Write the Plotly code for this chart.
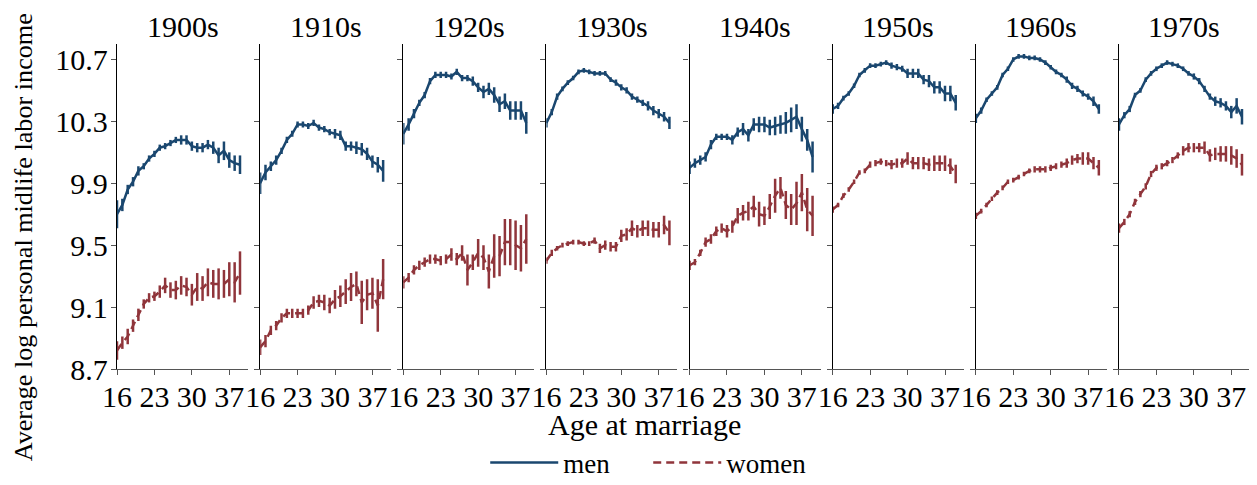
import plotly.graph_objects as go
from plotly.subplots import make_subplots

# Age at marriage (x) and decade panels
ages = list(range(16, 40))
decades = ["1900s", "1910s", "1920s", "1930s", "1940s", "1950s", "1960s", "1970s"]

# Average log personal midlife labor income, men
men_1900 = [9.70, 9.76, 9.86, 9.91, 9.98, 10.01, 10.06, 10.09, 10.13, 10.14, 10.16, 10.18,
            10.18, 10.18, 10.14, 10.13, 10.13, 10.15, 10.13, 10.08, 10.11, 10.05, 10.03, 10.02]
men_1910 = [9.90, 9.97, 10.01, 10.05, 10.11, 10.18, 10.22, 10.28, 10.28, 10.27, 10.29, 10.26,
            10.25, 10.23, 10.22, 10.21, 10.14, 10.14, 10.13, 10.12, 10.09, 10.04, 10.02, 9.98]
men_1920 = [10.22, 10.28, 10.35, 10.42, 10.47, 10.56, 10.60, 10.60, 10.60, 10.59, 10.62, 10.58,
            10.58, 10.56, 10.52, 10.49, 10.51, 10.47, 10.41, 10.43, 10.37, 10.37, 10.37, 10.29]
men_1930 = [10.29, 10.36, 10.46, 10.51, 10.55, 10.58, 10.62, 10.63, 10.62, 10.61, 10.61, 10.61,
            10.57, 10.55, 10.52, 10.50, 10.46, 10.44, 10.42, 10.40, 10.37, 10.35, 10.33, 10.29]
men_1940 = [10.00, 10.03, 10.05, 10.07, 10.15, 10.20, 10.20, 10.20, 10.18, 10.23, 10.25, 10.21,
            10.28, 10.28, 10.28, 10.26, 10.27, 10.28, 10.29, 10.31, 10.33, 10.25, 10.18, 10.07]
men_1950 = [10.38, 10.40, 10.45, 10.48, 10.53, 10.60, 10.63, 10.66, 10.66, 10.67, 10.68, 10.66,
            10.65, 10.64, 10.61, 10.61, 10.61, 10.57, 10.56, 10.52, 10.52, 10.48, 10.48, 10.42]
men_1960 = [10.32, 10.37, 10.44, 10.48, 10.52, 10.60, 10.64, 10.70, 10.72, 10.72, 10.71, 10.71,
            10.70, 10.68, 10.65, 10.62, 10.60, 10.57, 10.53, 10.51, 10.48, 10.46, 10.43, 10.38]
men_1970 = [10.28, 10.34, 10.38, 10.47, 10.50, 10.57, 10.61, 10.64, 10.66, 10.68, 10.67, 10.66,
            10.64, 10.61, 10.59, 10.56, 10.51, 10.46, 10.43, 10.42, 10.40, 10.36, 10.40, 10.33]

# Average log personal midlife labor income, women
women_1900 = [8.82, 8.87, 8.91, 8.98, 9.05, 9.12, 9.16, 9.17, 9.20, 9.24, 9.21, 9.21,
              9.24, 9.23, 9.18, 9.23, 9.22, 9.26, 9.25, 9.25, 9.25, 9.28, 9.26, 9.32]
women_1910 = [8.84, 8.88, 8.95, 8.98, 9.03, 9.06, 9.06, 9.06, 9.06, 9.08, 9.13, 9.14,
              9.13, 9.11, 9.15, 9.17, 9.20, 9.23, 9.25, 9.13, 9.18, 9.19, 9.11, 9.28]
women_1920 = [9.26, 9.29, 9.34, 9.37, 9.39, 9.41, 9.41, 9.40, 9.41, 9.44, 9.41, 9.45,
              9.34, 9.39, 9.45, 9.42, 9.33, 9.43, 9.43, 9.52, 9.52, 9.50, 9.48, 9.54]
women_1930 = [9.40, 9.45, 9.48, 9.50, 9.51, 9.52, 9.52, 9.51, 9.51, 9.53, 9.48, 9.50,
              9.49, 9.49, 9.56, 9.57, 9.61, 9.59, 9.61, 9.61, 9.60, 9.60, 9.63, 9.58]
women_1940 = [9.37, 9.39, 9.45, 9.52, 9.54, 9.59, 9.61, 9.59, 9.62, 9.69, 9.71, 9.72,
              9.75, 9.70, 9.69, 9.75, 9.82, 9.87, 9.76, 9.73, 9.77, 9.84, 9.73, 9.69]
women_1950 = [9.73, 9.76, 9.82, 9.86, 9.91, 9.97, 9.98, 10.02, 10.03, 10.04, 10.03, 10.02,
              10.03, 10.03, 10.06, 10.03, 10.03, 10.03, 10.02, 10.03, 10.03, 10.03, 10.01, 9.96]
women_1960 = [9.69, 9.72, 9.76, 9.80, 9.84, 9.87, 9.91, 9.92, 9.94, 9.96, 9.98, 9.99,
              9.99, 9.99, 10.00, 10.01, 10.02, 10.03, 10.05, 10.06, 10.06, 10.06, 10.03, 10.00]
women_1970 = [9.61, 9.65, 9.70, 9.78, 9.83, 9.88, 9.96, 10.00, 10.01, 10.03, 10.05, 10.08,
              10.11, 10.13, 10.13, 10.13, 10.13, 10.08, 10.09, 10.09, 10.09, 10.08, 10.06, 10.02]

# Half-width of confidence intervals, men
men_ci_1900 = [0.09, 0.04, 0.03, 0.03, 0.03, 0.02, 0.02, 0.02, 0.02, 0.02, 0.02, 0.02,
               0.03, 0.03, 0.03, 0.03, 0.03, 0.03, 0.04, 0.05, 0.06, 0.05, 0.05, 0.06]
men_ci_1910 = [0.07, 0.05, 0.03, 0.03, 0.02, 0.02, 0.02, 0.02, 0.02, 0.02, 0.02, 0.02,
               0.02, 0.02, 0.03, 0.03, 0.03, 0.03, 0.04, 0.04, 0.04, 0.04, 0.05, 0.07]
men_ci_1920 = [0.07, 0.04, 0.03, 0.02, 0.02, 0.02, 0.02, 0.02, 0.02, 0.02, 0.02, 0.02,
               0.02, 0.03, 0.03, 0.04, 0.04, 0.05, 0.05, 0.05, 0.06, 0.06, 0.06, 0.07]
men_ci_1930 = [0.03, 0.02, 0.02, 0.015, 0.015, 0.015, 0.015, 0.015, 0.015, 0.015, 0.015, 0.015,
               0.015, 0.02, 0.02, 0.02, 0.02, 0.02, 0.02, 0.03, 0.03, 0.03, 0.03, 0.04]
men_ci_1940 = [0.04, 0.03, 0.03, 0.03, 0.03, 0.02, 0.02, 0.02, 0.03, 0.03, 0.04, 0.04,
               0.04, 0.05, 0.05, 0.05, 0.06, 0.06, 0.07, 0.08, 0.08, 0.08, 0.07, 0.10]
men_ci_1950 = [0.03, 0.02, 0.015, 0.015, 0.015, 0.015, 0.015, 0.015, 0.015, 0.015, 0.015, 0.02,
               0.02, 0.02, 0.03, 0.03, 0.03, 0.03, 0.04, 0.04, 0.04, 0.05, 0.05, 0.05]
men_ci_1960 = [0.03, 0.02, 0.015, 0.015, 0.015, 0.015, 0.015, 0.015, 0.015, 0.015, 0.015, 0.015,
               0.015, 0.015, 0.015, 0.015, 0.015, 0.02, 0.02, 0.02, 0.02, 0.02, 0.03, 0.03]
men_ci_1970 = [0.04, 0.02, 0.02, 0.015, 0.015, 0.015, 0.015, 0.015, 0.015, 0.015, 0.015, 0.015,
               0.015, 0.015, 0.02, 0.02, 0.02, 0.02, 0.03, 0.03, 0.03, 0.04, 0.05, 0.05]

# Half-width of confidence intervals, women
women_ci_1900 = [0.06, 0.04, 0.05, 0.04, 0.04, 0.03, 0.03, 0.03, 0.04, 0.05, 0.05, 0.06,
                 0.06, 0.06, 0.07, 0.09, 0.08, 0.09, 0.09, 0.10, 0.09, 0.11, 0.13, 0.14]
women_ci_1910 = [0.05, 0.04, 0.03, 0.03, 0.03, 0.03, 0.03, 0.03, 0.03, 0.03, 0.04, 0.04,
                 0.05, 0.05, 0.06, 0.07, 0.08, 0.09, 0.08, 0.14, 0.10, 0.10, 0.17, 0.13]
women_ci_1920 = [0.04, 0.03, 0.03, 0.03, 0.03, 0.03, 0.03, 0.03, 0.03, 0.04, 0.04, 0.05,
                 0.10, 0.05, 0.09, 0.08, 0.11, 0.14, 0.13, 0.15, 0.15, 0.16, 0.15, 0.16]
women_ci_1930 = [0.02, 0.02, 0.015, 0.015, 0.015, 0.015, 0.015, 0.015, 0.015, 0.02, 0.03, 0.03,
                 0.03, 0.03, 0.04, 0.04, 0.05, 0.04, 0.05, 0.05, 0.05, 0.05, 0.06, 0.08]
women_ci_1940 = [0.03, 0.02, 0.02, 0.03, 0.03, 0.03, 0.03, 0.04, 0.04, 0.05, 0.05, 0.06,
                 0.07, 0.08, 0.06, 0.08, 0.11, 0.07, 0.09, 0.10, 0.14, 0.12, 0.14, 0.13]
women_ci_1950 = [0.02, 0.015, 0.015, 0.015, 0.015, 0.015, 0.015, 0.02, 0.02, 0.02, 0.02, 0.03,
                 0.03, 0.03, 0.04, 0.04, 0.04, 0.04, 0.04, 0.05, 0.05, 0.05, 0.05, 0.06]
women_ci_1960 = [0.02, 0.015, 0.015, 0.015, 0.015, 0.015, 0.015, 0.015, 0.015, 0.015, 0.015, 0.02,
                 0.02, 0.02, 0.02, 0.02, 0.02, 0.03, 0.03, 0.03, 0.04, 0.04, 0.04, 0.05]
women_ci_1970 = [0.03, 0.02, 0.02, 0.02, 0.02, 0.02, 0.02, 0.02, 0.02, 0.02, 0.02, 0.02,
                 0.03, 0.03, 0.03, 0.03, 0.04, 0.04, 0.04, 0.05, 0.05, 0.06, 0.06, 0.07]

men = [men_1900, men_1910, men_1920, men_1930, men_1940, men_1950, men_1960, men_1970]
women = [women_1900, women_1910, women_1920, women_1930, women_1940, women_1950, women_1960, women_1970]
men_ci = [men_ci_1900, men_ci_1910, men_ci_1920, men_ci_1930, men_ci_1940, men_ci_1950, men_ci_1960, men_ci_1970]
women_ci = [women_ci_1900, women_ci_1910, women_ci_1920, women_ci_1930, women_ci_1940, women_ci_1950,
            women_ci_1960, women_ci_1970]

x_ticks = [16, 23, 30, 37]
y_ticks = [8.7, 9.1, 9.5, 9.9, 10.3, 10.7]

MEN_COLOR = '#1a476f'
WOMEN_COLOR = '#90353b'
FONT = 'Liberation Serif, Times New Roman, serif'

fig = make_subplots(rows=1, cols=len(decades), shared_yaxes=True,
                    horizontal_spacing=0.0107, subplot_titles=decades)

for i in range(len(decades)):
    col = i + 1
    fig.add_trace(go.Scatter(
        x=ages, y=women[i], mode='lines', name='women',
        line=dict(color=WOMEN_COLOR, width=2.5, dash='8px,5px'),
        error_y=dict(type='data', array=women_ci[i], visible=True,
                     color=WOMEN_COLOR, thickness=2.5, width=0),
        showlegend=(i == 0), legendrank=2,
    ), row=1, col=col)
    fig.add_trace(go.Scatter(
        x=ages, y=men[i], mode='lines', name='men',
        line=dict(color=MEN_COLOR, width=2.5),
        error_y=dict(type='data', array=men_ci[i], visible=True,
                     color=MEN_COLOR, thickness=2.5, width=0),
        showlegend=(i == 0), legendrank=1,
    ), row=1, col=col)

fig.update_xaxes(range=[16, 40.5], tickvals=x_ticks, ticks='outside', ticklen=5,
                 tickcolor='#555', showline=True, linecolor='#555', linewidth=1,
                 showgrid=False, zeroline=False, ticklabelstandoff=-4,
                 tickfont=dict(family=FONT, size=30, color='black'))
fig.update_yaxes(range=[8.7, 10.8], tickvals=y_ticks, ticktext=[f'{v:.1f}' for v in y_ticks],
                 ticks='outside', ticklen=5, tickcolor='#555',
                 showline=True, linecolor='black', linewidth=1.3,
                 showgrid=False, zeroline=False, ticklabelstandoff=-3,
                 tickfont=dict(family=FONT, size=30, color='black'))

for ann in fig.layout.annotations:
    ann.font = dict(family=FONT, size=30, color='black')
    ann.yshift = -1

fig.add_annotation(text='Age at marriage', xref='paper', yref='paper',
                   x=0.466, y=-0.17, xanchor='center', yanchor='middle',
                   showarrow=False, font=dict(family=FONT, size=30, color='black'))
fig.add_annotation(text='Average log personal midlife labor income', xref='paper', yref='paper',
                   x=-0.083, y=0.405, textangle=-90, xanchor='center', yanchor='middle',
                   showarrow=False, font=dict(family=FONT, size=26.2, color='black'))

# page body keeps an 8px margin, so the figure is shifted by it inside the window
fig.update_layout(
    width=1249, height=485,
    margin=dict(l=109, r=7, t=36, b=123),
    plot_bgcolor='white', paper_bgcolor='white',
    font=dict(family=FONT, color='black'),
    legend=dict(orientation='h', x=0.325, xanchor='left', y=-0.36, yanchor='bottom',
                itemwidth=68, entrywidth=80, entrywidthmode='pixels',
                font=dict(family=FONT, size=27, color='black'), traceorder='normal'),
)

fig.write_html("out.html")
